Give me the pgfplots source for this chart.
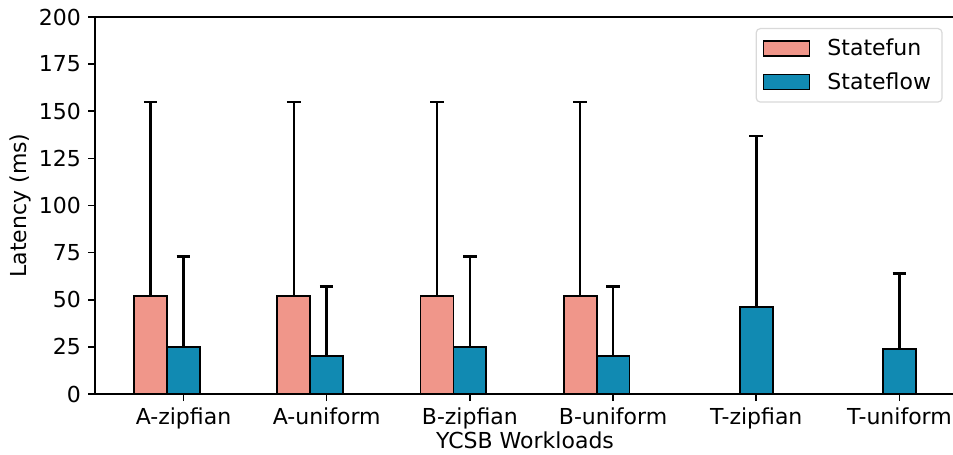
\documentclass[border=0pt]{standalone}
\usepackage{fontspec}
\setmainfont{DejaVu Sans}
\usepackage{pgfplots}
\pgfplotsset{compat=1.18}
\definecolor{sfun}{HTML}{F0968A}
\definecolor{sflow}{HTML}{118AB2}
\begin{document}
\begin{tikzpicture}
\begin{axis}[
  name=ax,
  scale only axis, width=430pt, height=188.5pt,
  xmin=-0.618, xmax=5.388, ymin=0, ymax=200,
  ytick={0,25,...,200},
  xtick={0,1,2,3,4,5},
  xticklabels={A-zipfian,A-uniform,B-zipfian,B-uniform,T-zipfian,T-uniform},
  tick align=outside, tick pos=left, major tick length=3.5pt,
  every tick/.style={black, line width=0.8pt},
  axis line style={line width=0.8pt},
  ybar, bar width=0.23,
  /pgf/number format/assume math mode=true,
  ticklabel style={font=\fontsize{11}{13}\selectfont},
  label style={font=\fontsize{11}{13}\selectfont},
  xlabel={YCSB Workloads}, ylabel={Latency (ms)},
  xlabel style={at={(axis description cs:0.5,-0.122)}, anchor=center},
  ylabel style={at={(axis description cs:-0.0872,0.5)}, anchor=center},
  error bars/y dir=plus, error bars/y explicit,
  error bars/error bar style={line width=1.25pt, black},
  error bars/error mark options={rotate=90, mark size=3.4pt, line width=1.25pt, black},
  legend style={at={(1,1)}, anchor=north east, xshift=-6.2pt, yshift=-5.5pt,
    draw=black!15, rounded corners=2pt, line width=0.6pt,
    font=\fontsize{11}{13}\selectfont, inner xsep=3.5pt, inner ysep=3pt, row sep=3pt,
    /tikz/every odd column/.append style={column sep=6.5pt}},
  legend cell align=left,
  legend image code/.code={\draw[#1,draw=black,line width=0.6pt,sharp corners] (0pt,-3.75pt) rectangle (23pt,3.75pt);},
]
\addplot[fill=sfun, draw=black, line width=0.9pt, bar shift=-0.23]
  coordinates {(0,52) +- (0,103) (1,52) +- (0,103) (2,52) +- (0,103) (3,52) +- (0,103)};
\addplot[fill=sflow, draw=black, line width=0.9pt, bar shift=0]
  coordinates {(0,25) +- (0,48) (1,20) +- (0,37) (2,25) +- (0,48) (3,20) +- (0,37) (4,46) +- (0,91) (5,24) +- (0,40)};
\legend{Statefun,Stateflow}
\end{axis}
\pgfresetboundingbox
\path[use as bounding box] ([xshift=-47.5pt,yshift=-30pt]ax.south west) rectangle ([xshift=-1pt,yshift=8.5pt]ax.north east);
\end{tikzpicture}
\end{document}
